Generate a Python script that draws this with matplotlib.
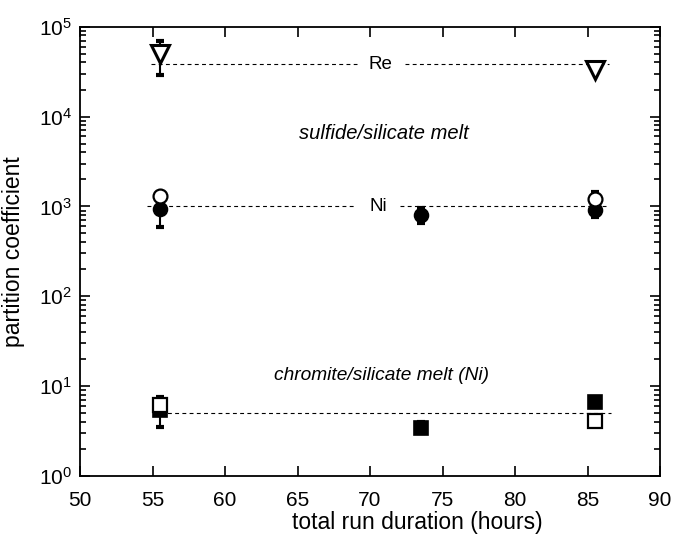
import matplotlib
matplotlib.use("Agg")
import matplotlib.pyplot as plt
import numpy as np

plt.rcParams['font.family'] = ['Liberation Sans', 'DejaVu Sans']

# Re (sulfide/silicate) open triangles
re_x = [55.5, 85.5]
re_open = [5.0e4, 3.3e4]
re_err_lo = 2.9e4
re_err_hi = 7.0e4
re_mean = 3.8e4

# Ni sulfide/silicate
ni_open_x = [55.5, 85.5]
ni_open = [1300, 1210]
ni_filled_x = [55.5, 73.5, 85.5]
ni_filled = [945, 800, 910]
ni_filled_lo = [590, 650, 755]
ni_filled_hi = [1100, 950, 1440]
ni_mean = 1000

# Ni chromite/silicate
cr_open_x = [55.5, 85.5]
cr_open = [6.1, 4.1]
cr_filled_x = [55.5, 73.5, 85.5]
cr_filled = [5.4, 3.46, 6.6]
cr_filled_lo = [3.5, 3.0, 6.2]
cr_filled_hi = [7.6, 3.95, 7.0]
cr_mean = 5.0

xticks = [50, 55, 60, 65, 70, 75, 80, 85, 90]

fig = plt.figure(figsize=(6.73, 5.4), dpi=100)
ax = fig.add_axes([80/673, 1-476/540, 580/673, (476-26.7)/540])
ax.set_yscale('log')
ax.set_xlim(50, 90)
ax.set_ylim(1, 1e5)

dash = dict(color='black', lw=0.8, linestyle=(0, (3.5, 3)), zorder=1)
# Re mean line with gap for label
ax.plot([54.9, 69.1], [re_mean]*2, **dash)
ax.plot([72.4, 86.5], [re_mean]*2, **dash)
ax.text(70.7, re_mean, 'Re', ha='center', va='center', fontsize=13.5)
# Ni mean line
ax.plot([54.6, 68.9], [ni_mean]*2, **dash)
ax.plot([72.1, 86.3], [ni_mean]*2, **dash)
ax.text(70.6, ni_mean, 'Ni', ha='center', va='center', fontsize=13.5)
# chromite mean line
ax.plot([55.0, 86.6], [cr_mean]*2, **dash)

ax.text(70.95, 6.5e3, 'sulfide/silicate melt', ha='center', va='center',
        fontsize=14.5, style='italic')
ax.text(70.8, 13.3, 'chromite/silicate melt (Ni)', ha='center', va='center',
        fontsize=13.8, style='italic')

ekw = dict(ecolor='black', elinewidth=1.5, capsize=3, capthick=3, fmt='none', zorder=2)

# Re error bar
ax.errorbar([re_x[0]], [re_open[0]],
            yerr=[[re_open[0]-re_err_lo], [re_err_hi-re_open[0]]], **ekw)
ax.plot(re_x, re_open, linestyle='none', marker='v', ms=13.5, mfc='white',
        mec='black', mew=2.2, zorder=3)

# Ni
ax.errorbar(ni_filled_x, ni_filled,
            yerr=[np.array(ni_filled)-np.array(ni_filled_lo),
                  np.array(ni_filled_hi)-np.array(ni_filled)], **ekw)
ax.plot(ni_filled_x, ni_filled, linestyle='none', marker='o', ms=10,
        mfc='black', mec='black', mew=1.2, zorder=3)
ax.plot(ni_open_x, ni_open, linestyle='none', marker='o', ms=10,
        mfc='white', mec='black', mew=1.6, zorder=4)

# chromite
ax.errorbar(cr_filled_x, cr_filled,
            yerr=[np.array(cr_filled)-np.array(cr_filled_lo),
                  np.array(cr_filled_hi)-np.array(cr_filled)], **ekw)
ax.plot(cr_filled_x, cr_filled, linestyle='none', marker='s', ms=10.5,
        mfc='black', mec='black', mew=1.2, zorder=3)
ax.plot(cr_open_x, cr_open, linestyle='none', marker='s', ms=10.5,
        mfc='white', mec='black', mew=1.6, zorder=4)

ax.set_xticks(xticks)
ax.set_xticklabels([str(t) for t in xticks])
ax.tick_params(which='both', direction='in', top=True, right=True,
               labelsize=15, width=1.2)
ax.tick_params(which='major', length=7)
ax.tick_params(axis='x', which='major', pad=11)
ax.tick_params(axis='y', which='major', pad=6)
ax.tick_params(which='minor', length=4)
for s in ax.spines.values():
    s.set_linewidth(1.3)

ax.set_xlabel('total run duration (hours)', fontsize=16.5)
ax.xaxis.set_label_coords(0.581, -0.078)
ax.set_ylabel('partition coefficient', fontsize=16.5)
ax.yaxis.set_label_coords(-0.095, 0.5)

fig.savefig('out.png', dpi=100)
